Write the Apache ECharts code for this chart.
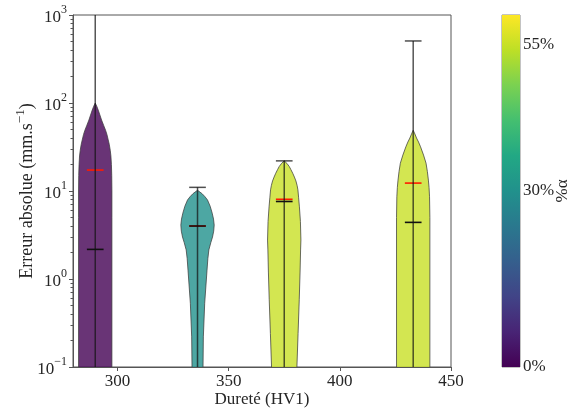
<!DOCTYPE html>
<html><head><meta charset="utf-8">
<script src="https://cdn.jsdelivr.net/npm/echarts@6/dist/echarts.min.js"></script>
<style>html,body{margin:0;padding:0;background:#fff}#c{width:575px;height:409px}</style>
</head><body><div id="c"></div>
<script>
// ---- data ----
const positions = [290, 336, 375, 433];
const alphaPct = [0, 30, 55, 55];
const maxima = [2000, 11.0, 22.0, 507];
const minima = [0.05, 0.05, 0.05, 0.05];
const means = [17.3, 4.0, 8.05, 12.3];
const medians = [2.17, 4.0, 7.6, 4.4];

const profileY1 = [0.05, 1, 5, 10, 15, 20, 25, 29, 34, 38, 44, 49, 56, 64, 73, 83, 92, 100];
const profileW1 = [1, 1, 1, 1, 0.99, 0.97, 0.94, 0.9, 0.84, 0.78, 0.7, 0.62, 0.5, 0.38, 0.28, 0.18, 0.09, 0];
const profileY2 = [0.05, 0.1, 0.22, 0.53, 1.26, 1.7, 2.14, 2.6, 3.0, 3.5, 4.1, 4.8, 5.6, 6.7, 7.9, 8.6, 9.3, 10.2];
const profileW2 = [0.32, 0.33, 0.35, 0.43, 0.57, 0.62, 0.68, 0.8, 0.9, 0.97, 1.0, 0.96, 0.88, 0.76, 0.6, 0.45, 0.28, 0];
const profileY3 = [0.05, 0.1, 0.24, 0.58, 1.2, 2.14, 2.77, 4.5, 6.6, 8.5, 10.3, 11.6, 13, 14.4, 15.9, 17.5, 19, 20.6, 22];
const profileW3 = [0.72, 0.76, 0.83, 0.9, 0.95, 0.98, 1.0, 0.97, 0.91, 0.86, 0.82, 0.77, 0.7, 0.61, 0.51, 0.4, 0.3, 0.16, 0];
const profileY4 = [0.05, 1, 5, 8.6, 11, 13.3, 16.6, 20.7, 25.6, 31.8, 36, 40, 44.5, 49];
const profileW4 = [1, 1, 1, 0.98, 0.95, 0.91, 0.85, 0.77, 0.62, 0.44, 0.32, 0.2, 0.1, 0];

const xTicks = [300, 350, 400, 450];
const yTicks = [0.1, 1, 10, 100, 1000];
const yMinorTicks = [0.2,0.3,0.4,0.5,0.6,0.7,0.8,0.9,2,3,4,5,6,7,8,9,20,30,40,50,60,70,80,90,200,300,400,500,600,700,800,900];
const colorbarTicks = [0, 30, 55];
const colorbarMax = 60;

// ---- style ----
const profilesY = [profileY1, profileY2, profileY3, profileY4];
const profilesW = [profileW1, profileW2, profileW3, profileW4];
const HALF = 7.5;      // max half width of a violin in x units
const CAP = 3.75;      // half length of the horizontal lines
const FONT = 'Liberation Serif';
const TXT = '#262626';
const viridisStops = ['#440154','#482475','#414487','#355f8d','#2a788e','#21918c','#22a884','#44bf70','#7ad151','#bddf26','#fde725'];
function hex(c){return [parseInt(c.substr(1,2),16),parseInt(c.substr(3,2),16),parseInt(c.substr(5,2),16)];}
function viridis(t){
  t=Math.max(0,Math.min(1,t)); const n=viridisStops.length-1; const k=Math.min(n-1,Math.floor(t*n)); const f=t*n-k;
  const a=hex(viridisStops[k]), b=hex(viridisStops[k+1]);
  return a.map((v,j)=>Math.round(v+(b[j]-v)*f));
}
function rgba(arr,a){return 'rgba('+arr[0]+','+arr[1]+','+arr[2]+','+a+')';}
function yLabel(v){
  const e=Math.round(Math.log10(v));
  const s=String(e).replace('-','\u2212');
  return '{b|10}{s|'+s+'}';
}
const richLab={
  b:{fontFamily:FONT,fontSize:17,color:TXT,lineHeight:22,verticalAlign:'bottom'},
  s:{fontFamily:FONT,fontSize:12,color:TXT,lineHeight:22,verticalAlign:'top'}
};
const richName={
  b:{fontFamily:FONT,fontSize:18,color:TXT,lineHeight:22,verticalAlign:'bottom'},
  s:{fontFamily:FONT,fontSize:13,color:TXT,lineHeight:22,verticalAlign:'top'}
};

const chart = echarts.init(document.getElementById('c'), null, {renderer:'canvas'});

function renderViolin(params, api){
  const i = params.dataIndex;
  const x0 = positions[i];
  const ys = profilesY[i], ws = profilesW[i];
  const pts = [];
  for (let k=0;k<ys.length;k++) pts.push(api.coord([x0 - ws[k]*HALF, ys[k]]));
  for (let k=ys.length-1;k>=0;k--) pts.push(api.coord([x0 + ws[k]*HALF, ys[k]]));
  const col = viridis(alphaPct[i]/colorbarMax);
  function hline(y, color, w){
    const a = api.coord([x0-CAP, y]), b = api.coord([x0+CAP, y]);
    return {type:'line', shape:{x1:a[0],y1:a[1],x2:b[0],y2:b[1]}, style:{stroke:color, lineWidth:w}};
  }
  const s0 = api.coord([x0, minima[i]]), s1 = api.coord([x0, maxima[i]]);
  return {type:'group', children:[
    {type:'polygon', shape:{points:pts}, style:{fill:rgba(col,0.8), stroke:'rgba(60,60,60,0.75)', lineWidth:1}},
    hline(means[i], '#ff1a00', 1.6),
    hline(maxima[i], 'rgba(20,20,20,0.75)', 1.5),
    {type:'line', shape:{x1:s0[0],y1:s0[1],x2:s1[0],y2:s1[1]}, style:{stroke:'rgba(20,20,20,0.72)', lineWidth:1.5}},
    hline(medians[i], '#111', 1.6)
  ]};
}

const option = {
  animation:false,
  backgroundColor:'#fff',
  grid:[
    {left:73, top:15, width:378, height:352, show:true, borderColor:'#555', borderWidth:1, backgroundColor:'transparent', outerBoundsMode:'none'},
    {left:502, top:15, width:18, height:352, show:true, borderColor:'#888', borderWidth:1, outerBoundsMode:'none'},
    {left:73, top:15, width:378, height:352, show:false, outerBoundsMode:'none'}
  ],
  xAxis:[
    {gridIndex:0, type:'value', min:280, max:450, splitLine:{show:false},
     axisLine:{lineStyle:{color:'#555',width:1}},
     axisTick:{length:4, lineStyle:{color:'#555'}, customValues:xTicks},
     axisLabel:{customValues:xTicks, fontFamily:FONT, fontSize:17, color:TXT, margin:6},
     name:'Dureté (HV1)', nameLocation:'middle', nameGap:24, nameMoveOverlap:false,
     nameTextStyle:{fontFamily:FONT, fontSize:17, color:TXT}},
    {gridIndex:1, type:'category', data:[''], show:false},
    {gridIndex:2, type:'value', min:280, max:450, show:false}
  ],
  yAxis:[
    {gridIndex:0, type:'log', logBase:10, min:0.1, max:1000, position:'left', splitLine:{show:false},
     axisLine:{lineStyle:{color:'#555',width:1}},
     axisTick:{length:4, lineStyle:{color:'#555'}, customValues:yTicks},
     axisLabel:{customValues:yTicks, formatter:yLabel, rich:richLab, margin:6},
     name:'{b|Erreur absolue (mm.s}{s|\u22121}{b|)}', nameLocation:'middle', nameGap:37, nameMoveOverlap:false,
     nameTextStyle:{rich:richName}},
    {gridIndex:1, type:'value', min:0, max:colorbarMax, position:'right', splitLine:{show:false},
     axisLine:{show:false},
     axisTick:{length:3, lineStyle:{color:'#555'}, customValues:colorbarTicks},
     axisLabel:{customValues:colorbarTicks, formatter:v=>v+'%', fontFamily:FONT, fontSize:17, color:TXT, margin:3},
     name:'%α', nameLocation:'middle', nameGap:34, nameRotate:90, nameMoveOverlap:false,
     nameTextStyle:{fontFamily:FONT, fontSize:17, color:TXT}},
    {gridIndex:2, type:'log', logBase:10, min:0.1, max:1000, position:'left', splitLine:{show:false},
     axisLine:{show:false},
     axisTick:{show:true, length:2.5, lineStyle:{color:'#555', width:1}, customValues:yMinorTicks},
     axisLabel:{show:false}}
  ],
  series:[
    {type:'custom', xAxisIndex:0, yAxisIndex:0, clip:true, silent:true,
     data:positions.map((p,i)=>[p, medians[i]]), renderItem:renderViolin},
    {type:'bar', xAxisIndex:1, yAxisIndex:1, data:[colorbarMax], barWidth:'100%', silent:true,
     itemStyle:{color:new echarts.graphic.LinearGradient(0,1,0,0, viridisStops.map((c,k)=>({offset:k/(viridisStops.length-1), color:c})))}}
  ]
};
chart.setOption(option);
</script>
</body></html>
